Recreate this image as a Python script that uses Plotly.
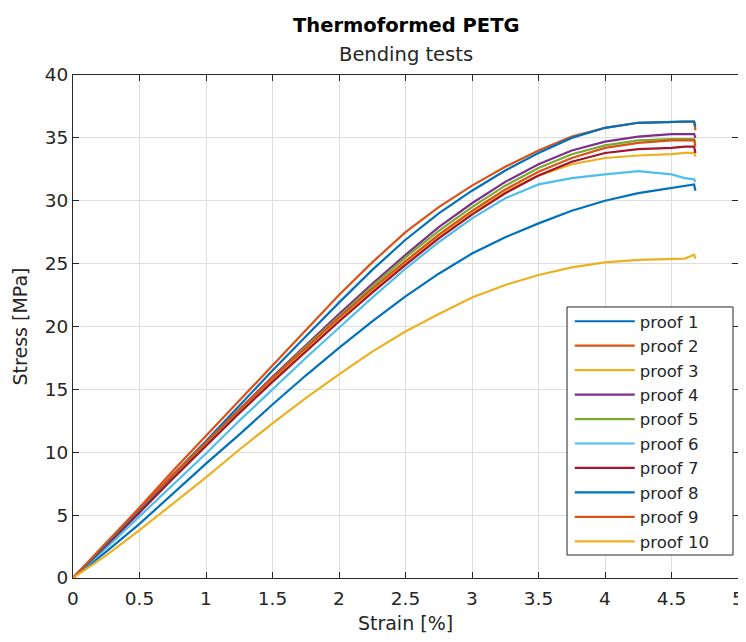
import plotly.graph_objects as go

# ---- data ----
strain = [0, 0.25, 0.5, 0.75, 1.0, 1.25, 1.5, 1.75, 2.0, 2.25, 2.5, 2.75,
          3.0, 3.25, 3.5, 3.75, 4.0, 4.25, 4.5, 4.6, 4.67, 4.68]

proof_1 = [0, 2.1, 4.3, 6.7, 9.1, 11.4, 13.8, 16.1, 18.3, 20.4, 22.4, 24.2,
           25.8, 27.1, 28.2, 29.2, 30.0, 30.6, 31.0, 31.2, 31.3, 30.8]
proof_2 = [0, 2.8, 5.6, 8.5, 11.3, 14.1, 16.9, 19.7, 22.5, 25.1, 27.5, 29.5,
           31.2, 32.7, 34.0, 35.1, 35.8, 36.2, 36.3, 36.3, 36.3, 35.6]
proof_3 = [0, 2.7, 5.3, 8.0, 10.6, 13.2, 15.7, 18.2, 20.6, 22.9, 25.1, 27.2,
           29.1, 30.7, 32.0, 32.9, 33.4, 33.6, 33.7, 33.8, 33.8, 33.5]
proof_4 = [0, 2.7, 5.4, 8.1, 10.8, 13.4, 16.0, 18.5, 21.0, 23.4, 25.7, 27.9,
           29.8, 31.5, 32.9, 34.0, 34.7, 35.1, 35.3, 35.3, 35.3, 35.0]
proof_5 = [0, 2.7, 5.3, 8.0, 10.7, 13.3, 15.9, 18.4, 20.8, 23.2, 25.5, 27.6,
           29.5, 31.2, 32.6, 33.7, 34.4, 34.8, 34.9, 34.9, 34.9, 34.6]
proof_6 = [0, 2.4, 4.9, 7.4, 9.9, 12.5, 15.0, 17.5, 19.9, 22.3, 24.6, 26.7,
           28.6, 30.2, 31.3, 31.8, 32.1, 32.35, 32.1, 31.8, 31.7, 31.5]
proof_7 = [0, 2.6, 5.2, 7.9, 10.5, 13.1, 15.6, 18.0, 20.4, 22.7, 24.9, 27.0,
           28.9, 30.6, 32.0, 33.1, 33.8, 34.1, 34.2, 34.3, 34.3, 33.8]
proof_8 = [0, 2.7, 5.4, 8.2, 10.9, 13.7, 16.5, 19.2, 21.9, 24.5, 26.9, 29.0,
           30.8, 32.4, 33.8, 35.0, 35.8, 36.2, 36.3, 36.3, 36.3, 35.9]
proof_9 = [0, 2.8, 5.5, 8.2, 10.8, 13.4, 15.9, 18.3, 20.7, 23.0, 25.2, 27.3,
           29.2, 30.9, 32.3, 33.4, 34.2, 34.6, 34.8, 34.8, 34.8, 34.3]
proof_10 = [0, 1.8, 3.8, 5.9, 8.0, 10.2, 12.3, 14.3, 16.2, 18.0, 19.6, 21.0,
            22.3, 23.3, 24.1, 24.7, 25.1, 25.3, 25.4, 25.4, 25.7, 25.4]

series_names = ["proof 1", "proof 2", "proof 3", "proof 4", "proof 5",
                "proof 6", "proof 7", "proof 8", "proof 9", "proof 10"]
series_values = [proof_1, proof_2, proof_3, proof_4, proof_5,
                 proof_6, proof_7, proof_8, proof_9, proof_10]
colors = ["#0072BD", "#D95319", "#EDB120", "#7E2F8E", "#77AC30",
          "#4DBEEE", "#A2142F", "#0072BD", "#D95319", "#EDB120"]

x_ticks = [0, 0.5, 1, 1.5, 2, 2.5, 3, 3.5, 4, 4.5, 5]
y_ticks = [0, 5, 10, 15, 20, 25, 30, 35, 40]

FONT = "DejaVu Sans, Liberation Sans, Arial, sans-serif"
AXC = "#262626"

# page body has an 8px margin: figure sized so the plot area lands where the reference has it
W, H = 738, 626
ML, MR, MT, MB = 65, 8, 67, 56
plot_h = H - MT - MB

fig = go.Figure()
for name, vals, col in zip(series_names, series_values, colors):
    fig.add_trace(go.Scatter(x=strain, y=vals, mode="lines", name=name,
                             line=dict(color=col, width=2.2)))

axis_common = dict(
    showgrid=True, gridcolor="#dedede", gridwidth=1,
    showline=True, linecolor=AXC, linewidth=1, mirror="ticks",
    ticks="inside", ticklen=6, tickcolor=AXC, tickwidth=1,
    tickfont=dict(family=FONT, size=18.5, color=AXC),
    zeroline=False, automargin=False,
)

fig.update_xaxes(range=[0, 5], tickvals=x_ticks,
                 ticktext=[f"{v:g}" for v in x_ticks],
                 ticklabelstandoff=4,
                 title=dict(text="Strain [%]", font=dict(family=FONT, size=19, color=AXC),
                            standoff=11),
                 **axis_common)
fig.update_yaxes(range=[0, 40], tickvals=y_ticks,
                 ticktext=[f"{v:g}" for v in y_ticks],
                 title=dict(text="Stress [MPa]", font=dict(family=FONT, size=19, color=AXC),
                            standoff=12),
                 **axis_common)

fig.update_layout(
    width=W, height=H,
    margin=dict(l=ML, r=MR, t=MT, b=MB),
    paper_bgcolor="white", plot_bgcolor="white",
    font=dict(family=FONT, color=AXC),
    showlegend=True,
    legend=dict(x=0.747, y=0.5447, xanchor="left", yanchor="top",
                bgcolor="rgba(0,0,0,0)", borderwidth=0,
                font=dict(family=FONT, size=16.5, color=AXC),
                itemwidth=60, tracegroupgap=0),
    shapes=[dict(type="rect", xref="paper", yref="paper",
                 x0=0.7429, x1=0.9925, y0=0.0457, y1=0.5388,
                 line=dict(color=AXC, width=1), fillcolor="white", layer="above")],
    annotations=[
        dict(text="<b>Thermoformed PETG</b>", x=0.5, xref="paper",
             y=1 + (MT - 17) / plot_h, yref="paper", yanchor="middle",
             showarrow=False, font=dict(family=FONT, size=19.5, color="black")),
        dict(text="Bending tests", x=0.5, xref="paper",
             y=1 + (MT - 47) / plot_h, yref="paper", yanchor="middle",
             showarrow=False, font=dict(family=FONT, size=19.5, color=AXC)),
    ],
)

fig.write_html("out.html")
